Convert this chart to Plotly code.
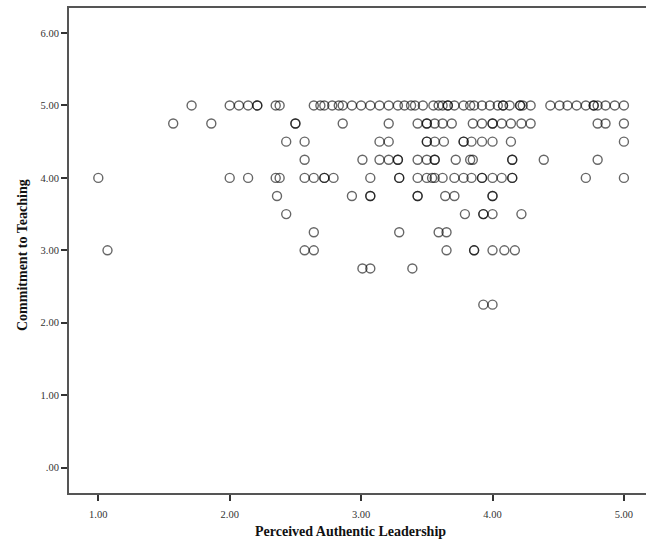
import plotly.graph_objects as go

# Perceived Authentic Leadership values, grouped by Commitment to Teaching level
x_at_5_00 = [1.71, 2.00, 2.07, 2.14, 2.21, 2.21, 2.35, 2.38, 2.64, 2.69, 2.72, 2.78, 2.83, 2.86,
             2.93, 3.00, 3.07, 3.14, 3.21, 3.28, 3.33, 3.38, 3.41, 3.47, 3.55, 3.59, 3.62, 3.66,
             3.66, 3.71, 3.78, 3.83, 3.86, 3.92, 3.98, 4.04, 4.08, 4.08, 4.13, 4.21, 4.21, 4.23,
             4.29, 4.44, 4.51, 4.57, 4.64, 4.71, 4.77, 4.77, 4.80, 4.86, 4.93, 5.00]
x_at_4_75 = [1.57, 1.86, 2.50, 2.50, 2.86, 3.21, 3.43, 3.50, 3.50, 3.56, 3.62, 3.69, 3.85, 3.92,
             4.00, 4.00, 4.07, 4.14, 4.22, 4.29, 4.80, 4.86, 5.00]
x_at_4_50 = [2.43, 2.57, 3.14, 3.21, 3.50, 3.50, 3.56, 3.63, 3.78, 3.78, 3.84, 3.92, 4.00, 4.14, 5.00]
x_at_4_25 = [2.57, 3.01, 3.14, 3.21, 3.28, 3.28, 3.43, 3.50, 3.56, 3.56, 3.72, 3.83, 3.85, 4.15,
             4.15, 4.39, 4.80]
x_at_4_00 = [1.00, 2.00, 2.14, 2.35, 2.38, 2.57, 2.64, 2.72, 2.72, 2.79, 3.07, 3.29, 3.29, 3.43,
             3.50, 3.54, 3.56, 3.62, 3.71, 3.78, 3.84, 3.92, 3.92, 4.00, 4.07, 4.15, 4.15, 4.71, 5.00]
x_at_3_75 = [2.36, 2.93, 3.07, 3.07, 3.43, 3.43, 3.64, 3.71, 4.00, 4.00]
x_at_3_50 = [2.43, 3.79, 3.93, 3.93, 4.00, 4.22]
x_at_3_25 = [2.64, 3.29, 3.59, 3.65]
x_at_3_00 = [1.07, 2.57, 2.64, 3.65, 3.86, 3.86, 4.00, 4.09, 4.17]
x_at_2_75 = [3.01, 3.07, 3.39]
x_at_2_25 = [3.93, 4.00]

commitment_levels = [5.00, 4.75, 4.50, 4.25, 4.00, 3.75, 3.50, 3.25, 3.00, 2.75, 2.25]
rows = [x_at_5_00, x_at_4_75, x_at_4_50, x_at_4_25, x_at_4_00, x_at_3_75,
        x_at_3_50, x_at_3_25, x_at_3_00, x_at_2_75, x_at_2_25]

x_ticks = [1, 2, 3, 4, 5]
x_tick_labels = ["1.00", "2.00", "3.00", "4.00", "5.00"]
y_ticks = [0, 1, 2, 3, 4, 5, 6]
y_tick_labels = [".00", "1.00", "2.00", "3.00", "4.00", "5.00", "6.00"]

xs, ys = [], []
for level, row in zip(commitment_levels, rows):
    xs.extend(row)
    ys.extend([level] * len(row))

fig = go.Figure()
fig.add_trace(go.Scatter(
    x=xs, y=ys, mode="markers",
    marker=dict(symbol="circle-open", size=9,
                color="rgba(0,0,0,0.6)", line=dict(width=1.4, color="rgba(0,0,0,0.6)")),
    showlegend=False, hoverinfo="x+y",
))

serif = "Liberation Serif, Times New Roman, serif"
axis_common = dict(
    showgrid=False, zeroline=False, showline=True, linecolor="#555555", linewidth=2,
    ticks="outside", ticklen=6, tickwidth=1.5, tickcolor="#333333",
    tickfont=dict(family=serif, size=10.5, color="#333333"),
)

fig.update_layout(
    width=646, height=543,
    margin=dict(l=69, r=0, t=8, b=50),
    plot_bgcolor="white", paper_bgcolor="white",
    xaxis=dict(range=[0.777, 5.168], tickvals=x_ticks, ticktext=x_tick_labels,
               mirror=True, ticklabelstandoff=4, **axis_common),
    yaxis=dict(range=[-0.35, 6.345], tickvals=y_ticks, ticktext=y_tick_labels,
               **axis_common),
    annotations=[
        dict(text="<b>Perceived Authentic Leadership</b>", xref="paper", yref="paper",
             x=(350 - 69) / 577, y=-(531 - 493) / 485, xanchor="center", yanchor="middle",
             showarrow=False, font=dict(family=serif, size=14, color="#111111")),
        dict(text="<b>Commitment to Teaching</b>", xref="paper", yref="paper",
             x=-(69 - 23) / 577, y=(493 - 255) / 485, xanchor="center", yanchor="middle",
             textangle=-90, showarrow=False, font=dict(family=serif, size=14, color="#111111")),
    ],
)

fig.write_html("out.html")
